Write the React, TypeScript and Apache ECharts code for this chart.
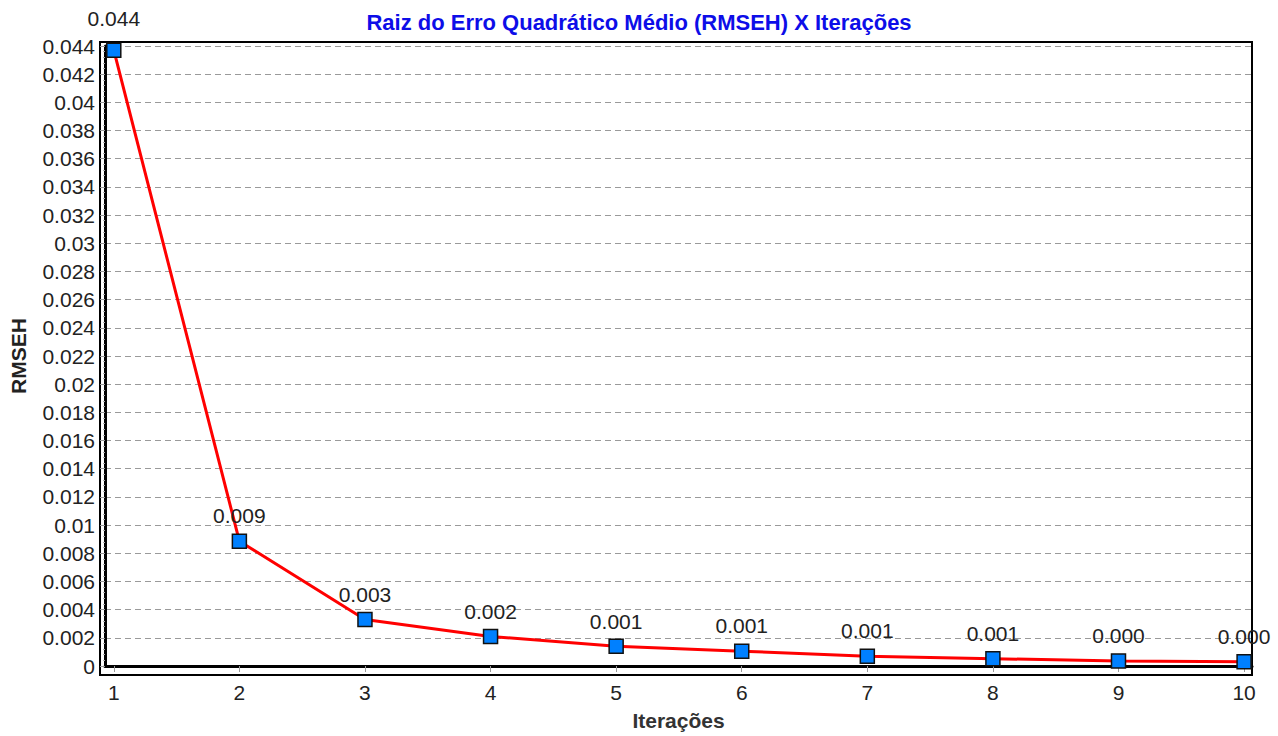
import React, { useEffect, useRef } from "react";
import * as echarts from "echarts";

const titleText = "Raiz do Erro Quadrático Médio (RMSEH) X Iterações";
const xName = "Iterações";
const yName = "RMSEH";
const iterations = [1, 2, 3, 4, 5, 6, 7, 8, 9, 10];
const rmseh = [0.0437, 0.00886, 0.0033, 0.0021, 0.0014, 0.00105, 0.0007, 0.00052, 0.00035, 0.0003];

export default function App() {
  const ref = useRef<HTMLDivElement>(null);
  useEffect(() => {
    if (!ref.current) return;
    const chart = echarts.init(ref.current, null, { renderer: "svg" });
    const font = "'Liberation Sans', Arial, sans-serif";
    const H = chart.getHeight();
    const plotTop = 46;
    const plotBottom = 671;
    const option: any = {
      animation: false,
      backgroundColor: "#ffffff",
      textStyle: { fontFamily: font },
      title: {
        text: titleText,
        left: "center",
        top: 6,
        textStyle: { color: "#0d0de8", fontSize: 22, fontWeight: "bold", fontFamily: font },
      },
      grid: { left: 100, right: 26, top: plotTop, bottom: H - plotBottom, containLabel: false },
      xAxis: {
        type: "value",
        min: 0.93,
        max: 10.063,
        offset: 4,
        name: xName,
        nameLocation: "middle",
        nameGap: 40,
        nameTextStyle: { fontSize: 21, fontWeight: "bold", color: "#333", fontFamily: font },
        axisLine: { show: true, lineStyle: { color: "#000", width: 3 } },
        axisTick: { show: true, customValues: iterations, length: 6, lineStyle: { color: "#999", width: 1 } },
        axisLabel: { customValues: iterations, fontSize: 21, color: "#222", margin: 12, fontFamily: font },
        splitLine: { show: false },
      },
      yAxis: {
        type: "value",
        min: 0,
        max: 0.044,
        interval: 0.002,
        name: yName,
        nameLocation: "middle",
        nameGap: 76,
        nameRotate: 90,
        nameTextStyle: { fontSize: 21, fontWeight: "bold", color: "#222", fontFamily: font },
        axisLine: { show: true, lineStyle: { color: "#000", width: 3 } },
        axisTick: { show: true, length: 5, lineStyle: { color: "#999", width: 1 } },
        minorTick: { show: true, splitNumber: 5, length: 2, lineStyle: { color: "#aaa", width: 1 } },
        axisLabel: {
          fontSize: 21,
          color: "#222",
          margin: 10,
          fontFamily: font,
          formatter: (v: number) => String(parseFloat(v.toFixed(3))),
        },
        splitLine: { show: true, lineStyle: { color: "#9a9a9a", type: [6, 4], width: 1 } },
      },
      graphic: [
        {
          type: "rect",
          shape: { x: 100, y: 42, width: 1152, height: plotBottom + 4 - 42 },
          style: { fill: "none", stroke: "#000", lineWidth: 2 },
          z: 0,
          silent: true,
        },
      ],
      series: [
        {
          type: "line",
          data: iterations.map((x, i) =>
            i === 0 ? { value: [x, rmseh[i]], label: { distance: 13 } } : { value: [x, rmseh[i]] }
          ),
          lineStyle: { color: "#ff0000", width: 3 },
          itemStyle: { color: "#0080ff", borderColor: "#111", borderWidth: 1.5 },
          symbol: "rect",
          symbolSize: 14,
          showAllSymbol: true,
          clip: false,
          label: {
            show: true,
            position: "top",
            distance: 7,
            fontSize: 21,
            color: "#222",
            fontFamily: font,
            formatter: (p: any) => p.value[1].toFixed(3),
          },
          z: 3,
        },
      ],
    };
    chart.setOption(option);
    return () => chart.dispose();
  }, []);
  return <div ref={ref} style={{ position: "fixed", left: 0, top: 0, width: 1278, height: 736 }} />;
}
